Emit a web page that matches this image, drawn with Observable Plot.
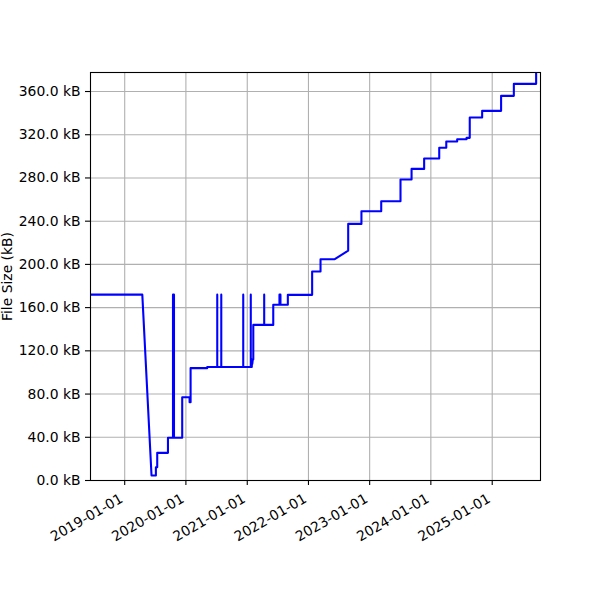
<!DOCTYPE html>
<html>
<head>
<meta charset="utf-8">
<script src="https://cdn.jsdelivr.net/npm/d3@7"></script>
<script src="https://cdn.jsdelivr.net/npm/@observablehq/plot@0.6"></script>
<style>
  html, body { margin: 0; padding: 0; background: #ffffff; }
  #chart { width: 600px; height: 600px; }
</style>
</head>
<body>
<div id="chart"></div>
<script>
// Commit dates and file sizes (kB)
const dates = [
  "2018-06-01", "2019-04-16", "2019-06-10", "2019-07-06", "2019-07-06", "2019-07-14", "2019-07-14",
  "2019-09-16", "2019-09-16", "2019-10-16", "2019-10-16", "2019-10-22", "2019-10-22",
  "2019-12-10", "2019-12-10", "2020-01-23", "2020-01-23", "2020-01-29", "2020-01-29",
  "2020-05-07", "2020-05-07",
  "2020-07-06", "2020-07-06", "2020-07-06",
  "2020-07-30", "2020-07-30", "2020-07-30",
  "2020-12-08", "2020-12-08", "2020-12-08",
  "2021-01-22", "2021-01-22", "2021-01-22",
  "2021-01-28", "2021-01-29", "2021-01-31", "2021-02-03", "2021-02-06", "2021-02-06",
  "2021-04-12", "2021-04-12", "2021-04-12",
  "2021-06-05", "2021-06-05",
  "2021-07-12", "2021-07-12", "2021-07-18", "2021-07-18",
  "2021-08-31", "2021-08-31",
  "2022-01-23", "2022-01-23", "2022-03-14", "2022-03-14",
  "2022-06-07", "2022-08-26", "2022-08-26",
  "2022-11-13", "2022-11-13", "2023-03-11", "2023-03-11",
  "2023-07-04", "2023-07-04", "2023-09-08", "2023-09-08",
  "2023-11-22", "2023-11-22", "2024-02-20", "2024-02-20",
  "2024-04-02", "2024-04-02", "2024-06-06", "2024-06-06",
  "2024-08-01", "2024-08-01", "2024-08-20", "2024-08-20",
  "2024-11-02", "2024-11-02", "2025-02-23", "2025-02-23",
  "2025-05-10", "2025-05-10", "2025-09-20", "2025-09-20"
];
const sizes = [
  172.0, 172.0, 4.6, 4.6, 12.3, 12.3, 25.6,
  25.6, 39.5, 39.5, 172.0, 172.0, 39.5,
  39.5, 77.0, 77.0, 72.5, 72.5, 104.0,
  104.0, 105.0,
  105.0, 172.0, 105.0,
  105.0, 172.0, 105.0,
  105.0, 172.0, 105.0,
  105.0, 172.0, 105.0,
  105.0, 112.0, 108.0, 112.0, 112.0, 144.0,
  144.0, 172.0, 144.0,
  144.0, 162.6,
  162.6, 172.0, 172.0, 162.6,
  162.6, 171.8,
  171.8, 193.4, 193.4, 204.8,
  204.8, 212.8, 237.5,
  237.5, 249.2, 249.2, 258.5,
  258.5, 278.5, 278.5, 288.4,
  288.4, 298.0, 298.0, 307.9,
  307.9, 313.7, 313.7, 315.9,
  315.9, 317.1, 317.1, 335.9,
  335.9, 342.1, 342.1, 356.0,
  356.0, 367.1, 367.1, 395.0
];
const xTicks = ["2019-01-01", "2020-01-01", "2021-01-01", "2022-01-01", "2023-01-01", "2024-01-01", "2025-01-01"];
const yTicks = [0, 40, 80, 120, 160, 200, 240, 280, 320, 360];
const xDomain = ["2018-06-11", "2025-10-16"];
const yDomain = [0, 377.6];

const data = dates.map((d, i) => ({date: new Date(d), size: sizes[i]}));
const xTickDates = xTicks.map(d => new Date(d));
const fmtDate = d3.utcFormat("%Y-%m-%d");

const FS = 13.9;
const chart = Plot.plot({
  width: 600,
  height: 600,
  marginLeft: 90,
  marginRight: 60,
  marginTop: 72,
  marginBottom: 120,
  style: {fontFamily: "DejaVu Sans", fontSize: FS + "px", background: "#ffffff", color: "#000000"},
  x: {type: "utc", domain: xDomain.map(d => new Date(d))},
  y: {type: "linear", domain: yDomain},
  marks: [
    Plot.gridX(xTickDates, {stroke: "#b0b0b0", strokeOpacity: 1, strokeWidth: 1.1}),
    Plot.gridY(yTicks, {stroke: "#b0b0b0", strokeOpacity: 1, strokeWidth: 1.1}),
    Plot.line(data, {x: "date", y: "size", stroke: "#0000ff", strokeWidth: 2.08, clip: true, curve: "linear", strokeLinejoin: "round"}),
    Plot.frame({stroke: "#000000", strokeWidth: 1.1}),
    Plot.axisY(yTicks, {
      tickSize: 5, tickPadding: 5, fontSize: FS, strokeWidth: 1.1,
      tickFormat: d => d.toFixed(1) + " kB",
      label: "File Size (kB)", labelAnchor: "center", labelArrow: "none", labelOffset: 88
    }),
    Plot.axisX(xTickDates, {
      tickSize: 5, tickPadding: 5, fontSize: FS, strokeWidth: 1.1,
      tickFormat: fmtDate, tickRotate: -30, label: null,
      textStroke: null
    }),
    Plot.axisX(xTickDates, {
      tickSize: 0, fontSize: FS, text: null, tickFormat: () => "", label: null
    })
  ]
});
// shift the rotated date labels to match the reference placement
chart.querySelectorAll('g[aria-label="x-axis tick label"] text').forEach(t => {
  const tr = t.getAttribute("transform") || "";
  t.setAttribute("transform", "translate(-3,7) " + tr);
});
document.getElementById("chart").appendChild(chart);
</script>
</body>
</html>
